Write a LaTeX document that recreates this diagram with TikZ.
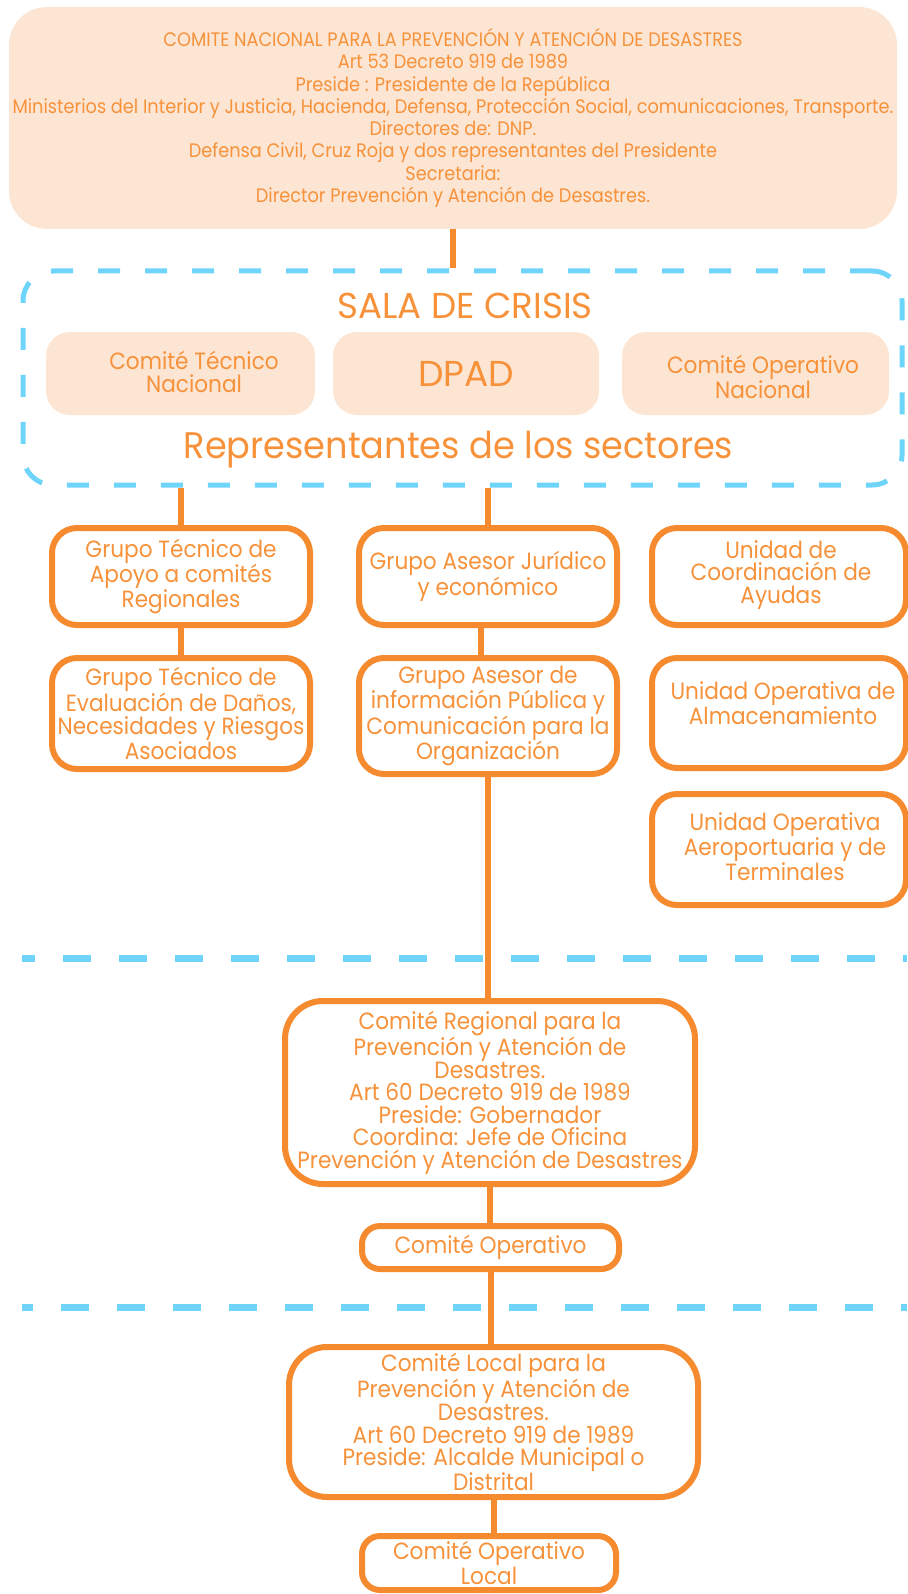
\documentclass[tikz,border=0pt]{standalone}
\usepackage{fontspec}
\setmainfont{Poppins}
\newfontfamily\boxfont[FakeStretch=0.92]{Poppins}
\newfontfamily\topfont[FakeStretch=0.91]{Poppins}
\newfontfamily\titlefont[FakeStretch=0.99]{Poppins}
\newfontfamily\repfont[FakeStretch=0.95]{Poppins}
\newfontfamily\dpadfont[FakeStretch=1.0]{Poppins}
\definecolor{lineor}{HTML}{F58A2F}
\definecolor{textor}{HTML}{F7923A}
\definecolor{peach}{HTML}{FCE5D3}
\definecolor{skyblue}{HTML}{6FD4F9}
\begin{document}
\begin{tikzpicture}[x=1pt,y=-1pt,
  box/.style={draw=lineor, line width=6pt, rounded corners=25pt, fill=white,
    text=textor, align=center, inner sep=0pt,
    font={\boxfont\fontsize{23.5}{22.4}\selectfont}},
  bigbox/.style={box, rounded corners=38pt},
  smallbox/.style={box, rounded corners=18pt},
  topbox/.style={fill=peach, rounded corners=38pt, text=textor, align=center,
    inner sep=0pt, font={\topfont\fontsize{19.5}{22.3}\selectfont}},
  peachbox/.style={fill=peach, rounded corners=24pt, inner sep=0pt, text=textor,
    font={\dpadfont\fontsize{36}{36}\selectfont}},
  peachlabel/.style={text=textor, align=center, inner sep=0pt,
    font={\boxfont\fontsize{23.5}{23}\selectfont}},
  title/.style={text=textor, inner sep=0pt, anchor=base,
    font={\titlefont\fontsize{36}{36}\selectfont}},
  salabox/.style={draw=skyblue, line width=5pt, rounded corners=30pt,
    dash pattern=on 22pt off 25pt, inner sep=0pt},
  conn/.style={draw=lineor, line width=6pt},
  sep/.style={draw=skyblue, line width=7pt, dash pattern=on 28pt off 28pt}
]
\useasboundingbox (0,0) rectangle (907,1594);

% national committee
\node[topbox, minimum width=888pt, minimum height=222pt] (comite) at (453,118)
  {COMITE NACIONAL PARA LA PREVENCIÓN Y ATENCIÓN DE DESASTRES\\
   Art 53 Decreto 919 de 1989\\
   Preside : Presidente de la República\\
   Ministerios del Interior y Justicia, Hacienda, Defensa, Protección Social, comunicaciones, Transporte.\\
   Directores de: DNP.\\
   Defensa Civil, Cruz Roja y dos representantes del Presidente\\
   Secretaria:\\
   Director Prevención y Atención de Desastres.};

% crisis room
\node[salabox, minimum width=879pt, minimum height=214pt] (sala) at (462.5,378) {};
\node[title] (salat) at (465,318) {SALA DE CRISIS};
\node[peachbox, minimum width=269pt, minimum height=83pt] (ctn) at (180.5,373.5) {};
\node[peachlabel] (ctnt) at (194,372) {Comité Técnico\\Nacional};
\node[peachbox, minimum width=266pt, minimum height=83pt] (dpad) at (466,373.5) {DPAD};
\node[peachbox, minimum width=267pt, minimum height=83pt] (con) at (755.5,373.5) {};
\node[peachlabel] (cont) at (763,377) {Comité Operativo\\Nacional};
\node[title, font={\repfont\fontsize{37}{37}\selectfont}] (rep) at (458.5,458)
  {Representantes de los sectores};

% support groups and units
\node[box, minimum width=258pt, minimum height=97pt] (a1) at (181,576.5)
  {Grupo Técnico de\\Apoyo a comités\\Regionales};
\node[box, minimum width=258pt, minimum height=111pt] (a2) at (181,713.5)
  {Grupo Técnico de\\Evaluación de Daños,\\Necesidades y Riesgos\\Asociados};
\node[box, minimum width=258pt, minimum height=97pt] (b1) at (488,576.5)
  {Grupo Asesor Jurídico\\y económico};
\node[box, minimum width=258pt, minimum height=116pt] (b2) at (488,716)
  {Grupo Asesor de\\información Pública y\\Comunicación para la\\Organización};
\node[box, minimum width=254pt, minimum height=97pt] (c1) at (779,576.5) {};
\node[peachlabel, font={\boxfont\fontsize{23.5}{22.4}\selectfont}] (c1t) at (781,575)
  {Unidad de\\Coordinación de\\Ayudas};
\node[box, minimum width=254pt, minimum height=110pt] (c2) at (779,713) {};
\node[peachlabel] (c2t) at (783,703) {Unidad Operativa de\\Almacenamiento};
\node[box, minimum width=254pt, minimum height=111pt] (c3) at (779,849.5) {};
\node[peachlabel, font={\boxfont\fontsize{23.5}{22.4}\selectfont}] (c3t) at (785,847)
  {Unidad Operativa\\Aeroportuaria y de\\Terminales};

% level separators
\coordinate (s1a) at (22,958);
\coordinate (s1b) at (907,958);
\coordinate (s2a) at (22,1307);
\coordinate (s2b) at (907,1307);
\draw[sep, dash phase=15pt] (s1a) -- (s1b);
\draw[sep, dash phase=17pt] (s2a) -- (s2b);

% regional level
\node[bigbox, minimum width=410pt, minimum height=183pt] (reg) at (490,1092.5)
  {Comité Regional para la\\Prevención y Atención de\\Desastres.\\
   Art 60 Decreto 919 de 1989\\Preside: Gobernador\\Coordina: Jefe de Oficina\\
   Prevención y Atención de Desastres};
\node[smallbox, minimum width=257pt, minimum height=43pt] (op) at (490.5,1247.5)
  {Comité Operativo};

% local level
\node[bigbox, minimum width=409pt, minimum height=150pt] (loc) at (493.5,1422)
  {Comité Local para la\\Prevención y Atención de\\Desastres.\\
   Art 60 Decreto 919 de 1989\\Preside: Alcalde Municipal o\\Distrital};
\node[smallbox, minimum width=254pt, minimum height=54pt] (opl) at (489,1563)
  {Comité Operativo\\Local};

% connectors
\draw[conn] (comite.south) -- (comite.south |- sala.north);
\draw[conn] (a1.north |- sala.south) -- (a1.north);
\draw[conn] (b1.north |- sala.south) -- (b1.north);
\draw[conn] (a1.south) -- (a2.north);
\draw[conn] ([xshift=-7pt]b1.south) -- ([xshift=-7pt]b2.north);
\draw[conn] (b2.south) -- (b2.south |- reg.north);
\draw[conn] (reg.south) -- (reg.south |- op.north);
\draw[conn] (op.south) -- (op.south |- loc.north);
\draw[conn] (loc.south) -- (loc.south |- opl.north);
\end{tikzpicture}
\end{document}
